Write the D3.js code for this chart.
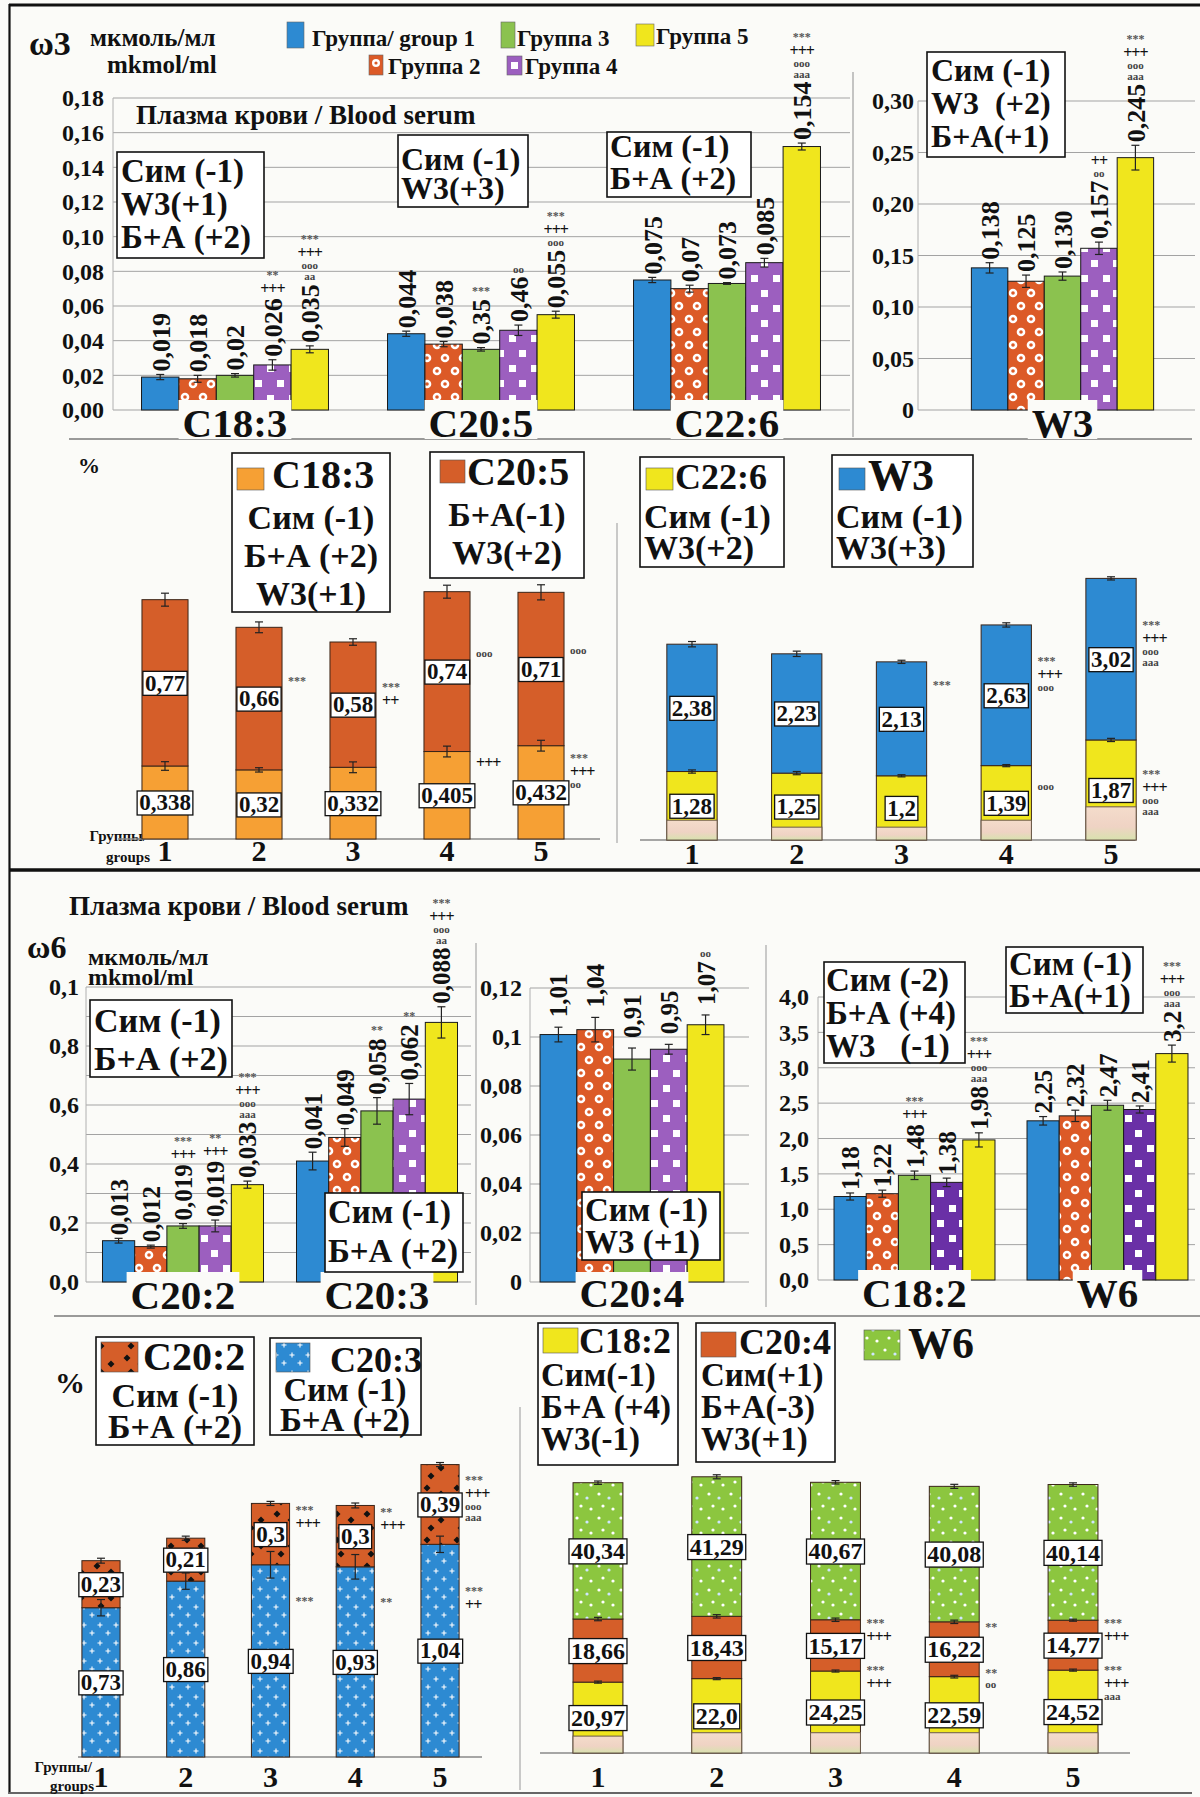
<!DOCTYPE html>
<html>
<head>
<meta charset="utf-8">
<script src="https://cdn.jsdelivr.net/npm/d3@7"></script>
<style>
  body { margin: 0; background: #fff; }
  svg { display: block; font-family: "Liberation Serif", "DejaVu Serif", serif; font-weight: bold; }
  text { white-space: pre; fill: #111; }
</style>
</head>
<body>
<svg id="fig" width="1200" height="1797"></svg>
<script>
// ---------- data ----------
const groups = ["1", "2", "3", "4", "5"];
const groupNames = ["Группа/ group 1", "Группа 2", "Группа 3", "Группа 4", "Группа 5"];

// ω3, мкмоль/мл
const w3Acids = ["C18:3", "C20:5", "C22:6"];
const w3Vals = [
  [0.019, 0.018, 0.020, 0.026, 0.035],
  [0.044, 0.038, 0.035, 0.046, 0.055],
  [0.075, 0.070, 0.073, 0.085, 0.152]
];
const w3Errs = [
  [0.0015, 0.002, 0.001, 0.003, 0.002],
  [0.0015, 0.0015, 0.001, 0.003, 0.002],
  [0.0015, 0.002, 0.0005, 0.0025, 0.002]
];
const w3Labs = [
  ["0,019", "0,018", "0,02", "0,026", "0,035"],
  ["0,044", "0,038", "0,35", "0,46", "0,055"],
  ["0,075", "0,07", "0,073", "0,085", "0,154"]
];
const w3Marks = [
  [[], [], [], ["**", "+++"], ["***", "+++", "ooo", "aa"]],
  [[], [], ["***"], ["oo"], ["***", "+++", "ooo"]],
  [[], [], [], [], ["***", "+++", "ooo", "aaa"]]
];
const w3Ticks = [0, 0.02, 0.04, 0.06, 0.08, 0.10, 0.12, 0.14, 0.16, 0.18];
const w3TickLabs = ["0,00", "0,02", "0,04", "0,06", "0,08", "0,10", "0,12", "0,14", "0,16", "0,18"];
const w3Notes = [["Сим (-1)", "W3(+1)", "Б+А (+2)"], ["Сим (-1)", "W3(+3)"], ["Сим (-1)", "Б+А (+2)"]];

const sumW3Vals = [[0.138, 0.125, 0.130, 0.157, 0.245]];
const sumW3Errs = [[0.005, 0.006, 0.004, 0.006, 0.012]];
const sumW3Labs = [["0,138", "0,125", "0,130", "0,157", "0,245"]];
const sumW3Marks = [[[], [], [], ["++", "oo"], ["***", "+++", "ooo", "aaa"]]];
const sumW3Ticks = [0, 0.05, 0.10, 0.15, 0.20, 0.25, 0.30];
const sumW3TickLabs = ["0", "0,05", "0,10", "0,15", "0,20", "0,25", "0,30"];
const sumW3Note = ["Сим (-1)", "W3  (+2)", "Б+А(+1)"];

// ω3, %
const pctC183 = [0.338, 0.32, 0.332, 0.405, 0.432];
const pctC205 = [0.77, 0.66, 0.58, 0.74, 0.71];
const pctC183Err = [0.02, 0.01, 0.025, 0.025, 0.025];
const pctC205Err = [0.03, 0.025, 0.015, 0.03, 0.035];
const pctC183Labs = ["0,338", "0,32", "0,332", "0,405", "0,432"];
const pctC205Labs = ["0,77", "0,66", "0,58", "0,74", "0,71"];
const pctC183Marks = [[], [], [], ["+++"], ["***", "+++", "oo"]];
const pctC205Marks = [[], ["***"], ["***", "++"], ["ooo"], ["ooo"]];

const pctC226 = [1.28, 1.25, 1.2, 1.39, 1.87];
const pctW3 = [2.38, 2.23, 2.13, 2.63, 3.02];
const pctW3Faded = [0.37, 0.24, 0.24, 0.37, 0.62];
const pctC226Err = [0.03, 0.03, 0.02, 0.02, 0.03];
const pctW3Err = [0.05, 0.05, 0.03, 0.04, 0.03];
const pctC226Labs = ["1,28", "1,25", "1,2", "1,39", "1,87"];
const pctW3Labs = ["2,38", "2,23", "2,13", "2,63", "3,02"];
const pctC226Marks = [[], [], [], ["ooo"], ["***", "+++", "ooo", "aaa"]];
const pctW3Marks = [[], [], ["***"], ["***", "+++", "ooo"], ["***", "+++", "ooo", "aaa"]];
const pctW3Notes = [["Сим (-1)", "Б+А (+2)", "W3(+1)"], ["Б+А(-1)", "W3(+2)"], ["Сим (-1)", "W3(+2)"], ["Сим (-1)", "W3(+3)"]];

// ω6, мкмоль/мл
const w6Acids = ["C20:2", "C20:3"];
const w6Vals = [
  [0.014, 0.012, 0.019, 0.019, 0.033],
  [0.041, 0.049, 0.058, 0.062, 0.088]
];
const w6Errs = [
  [0.0008, 0.0005, 0.0008, 0.002, 0.0012],
  [0.003, 0.003, 0.0045, 0.0053, 0.0053]
];
const w6Labs = [
  ["0,013", "0,012", "0,019", "0,019", "0,033"],
  ["0,041", "0,049", "0,058", "0,062", "0,088"]
];
const w6Marks = [
  [[], [], ["***", "+++"], ["**", "+++"], ["***", "+++", "ooo", "aaa"]],
  [[], [], ["**"], ["**"], ["***", "+++", "ooo", "aa"]]
];
const w6Ticks = [0, 0.02, 0.04, 0.06, 0.08, 0.1];
const w6TickLabs = ["0,0", "0,2", "0,4", "0,6", "0,8", "0,1"];
const w6Notes = [["Сим (-1)", "Б+А (+2)"], ["Сим (-1)", "Б+А (+2)"]];

const c204Vals = [[0.101, 0.103, 0.091, 0.095, 0.105]];
const c204Errs = [[0.003, 0.005, 0.0045, 0.002, 0.004]];
const c204Labs = [["1,01", "1,04", "0,91", "0,95", "1,07"]];
const c204Marks = [[[], [], [], [], ["oo"]]];
const c204Ticks = [0, 0.02, 0.04, 0.06, 0.08, 0.1, 0.12];
const c204TickLabs = ["0", "0,02", "0,04", "0,06", "0,08", "0,1", "0,12"];
const c204Note = ["Сим (-1)", "W3 (+1)"];

const n6Acids = ["C18:2", "W6"];
const n6Vals = [
  [1.18, 1.22, 1.48, 1.38, 1.98],
  [2.25, 2.32, 2.47, 2.41, 3.2]
];
const n6Errs = [
  [0.05, 0.05, 0.06, 0.06, 0.1],
  [0.06, 0.08, 0.07, 0.05, 0.12]
];
const n6Labs = [
  ["1,18", "1,22", "1,48", "1,38", "1,98"],
  ["2,25", "2,32", "2,47", "2,41", "3,2"]
];
const n6Marks = [
  [[], [], ["***", "+++"], [], ["***", "+++", "ooo", "aaa"]],
  [[], [], [], [], ["***", "+++", "ooo", "aaa"]]
];
const n6Ticks = [0, 0.5, 1, 1.5, 2, 2.5, 3, 3.5, 4];
const n6TickLabs = ["0,0", "0,5", "1,0", "1,5", "2,0", "2,5", "3,0", "3,5", "4,0"];
const c182Note = ["Сим (-2)", "Б+А (+4)", "W3   (-1)"];
const sumW6Note = ["Сим (-1)", "Б+А(+1)"];

// ω6, %
const pctC203 = [0.73, 0.86, 0.94, 0.93, 1.04];
const pctC202 = [0.23, 0.21, 0.3, 0.3, 0.39];
const pctC203Err = [0.04, 0.04, 0.065, 0.06, 0.04];
const pctC202Err = [0.012, 0.01, 0.01, 0.012, 0.01];
const pctC203Labs = ["0,73", "0,86", "0,94", "0,93", "1,04"];
const pctC202Labs = ["0,23", "0,21", "0,3", "0,3", "0,39"];
const pctC203Marks = [[], [], ["***"], ["**"], ["***", "++"]];
const pctC202Marks = [[], [], ["***", "+++"], ["**", "+++"], ["***", "+++", "ooo", "aaa"]];

const pctC182 = [20.97, 22.0, 24.25, 22.59, 24.52];
const pctC204 = [18.66, 18.43, 15.17, 16.22, 14.77];
const pctW6 = [40.34, 41.29, 40.67, 40.08, 40.14];
const pctW6Faded = [5, 6, 6, 6, 6];
const pctC182Err = [0.3, 0.3, 0.3, 0.4, 0.3];
const pctC204Err = [0.5, 0.5, 0.5, 0.5, 0.3];
const pctW6Err = [0.5, 0.6, 0.5, 0.6, 0.5];
const pctC182Labs = ["20,97", "22,0", "24,25", "22,59", "24,52"];
const pctC204Labs = ["18,66", "18,43", "15,17", "16,22", "14,77"];
const pctW6Labs = ["40,34", "41,29", "40,67", "40,08", "40,14"];
const pctC182Marks = [[], [], ["***", "+++"], ["**", "oo"], ["***", "+++", "aaa"]];
const pctC204Marks = [[], [], ["***", "+++"], ["**"], ["***", "+++"]];
const pctW6Notes = [["Сим (-1)", "Б+А (+2)"], ["Сим (-1)", "Б+А (+2)"], ["Сим(-1)", "Б+А (+4)", "W3(-1)"], ["Сим(+1)", "Б+А(-3)", "W3(+1)"]];

// ---------- drawing ----------
const SERIF = '"Liberation Serif", "DejaVu Serif", serif';
const COL = {
  blue: "#2d8ad2", red: "#dc5a27", green: "#8bc24f", purple: "#9c5fbf", purpleDk: "#6a30a6",
  yellow: "#f0e61d", orange: "#f6a034", brick: "#d55e29", w6: "#8cc63f"
};
const svg = d3.select("#fig");
svg.append("rect").attr("width", 1200).attr("height", 1797).attr("fill", "#fbfbf8");
const defs = svg.append("defs");

function pattern(id, w, h, bg) {
  const p = defs.append("pattern").attr("id", id).attr("patternUnits", "userSpaceOnUse")
    .attr("width", w).attr("height", h);
  p.append("rect").attr("width", w).attr("height", h).attr("fill", bg);
  return p;
}
const rings = pattern("rings", 18, 26, COL.red);
[[5, 7], [13, 20]].forEach(([x, y]) => {
  rings.append("circle").attr("cx", x).attr("cy", y).attr("r", 4.3).attr("fill", "#fff");
  rings.append("circle").attr("cx", x).attr("cy", y).attr("r", 1.8).attr("fill", COL.red);
});
[["squares", COL.purple], ["squaresDk", COL.purpleDk]].forEach(([id, c]) => {
  const p = pattern(id, 22, 30, c);
  [[3, 5], [13, 20]].forEach(([x, y]) => p.append("rect").attr("x", x).attr("y", y).attr("width", 7).attr("height", 7).attr("fill", "#fff"));
});
const diam = pattern("diamonds", 30, 26, COL.brick);
[[7, 6], [21, 12], [11, 20]].forEach(([x, y]) =>
  diam.append("path").attr("d", `M${x},${y - 3.5}L${x + 3.5},${y}L${x},${y + 3.5}L${x - 3.5},${y}Z`).attr("fill", "#111"));
const cross = pattern("crosses", 16, 18, COL.blue);
[[4, 5], [12, 13]].forEach(([x, y]) =>
  cross.append("path").attr("d", `M${x - 2.5},${y}H${x + 2.5}M${x},${y - 2.5}V${y + 2.5}`).attr("stroke", "#fff").attr("stroke-width", 1.1));
const dots = pattern("dots", 22, 24, COL.w6);
[[5, 6, "#fff"], [15, 10, "#cfe6ff"], [9, 18, "#fff"], [19, 21, "#fff"]].forEach(([x, y, c]) =>
  dots.append("circle").attr("cx", x).attr("cy", y).attr("r", 1.6).attr("fill", c));
const fg = defs.append("linearGradient").attr("id", "faded").attr("x1", 0).attr("y1", 0).attr("x2", 0).attr("y2", 1);
[[0, "#f4dccb"], [0.6, "#efd3c4"], [1, "#d8e2ae"]].forEach(([o, c]) => fg.append("stop").attr("offset", o).attr("stop-color", c));

const groupFill = (j, dark) => [COL.blue, "url(#rings)", COL.green, dark ? "url(#squaresDk)" : "url(#squares)", COL.yellow][j];

function markStyle(s) {
  if (s[0] === "*") return { size: 12, h: 12, fill: "#555", ls: 0 };
  if (s[0] === "+") return { size: 16, h: 15, fill: "#111", ls: -1 };
  return { size: 11, h: 11, fill: "#444", ls: 0 };
}
// one text per stack of significance marks; up = stack ends at y, else starts at y
function markStack(g, x, y, list, anchor, up) {
  if (!list || !list.length) return;
  let cur = up ? y - d3.sum(list, s => markStyle(s).h) : y;
  const t = g.append("text").attr("text-anchor", anchor);
  list.forEach(s => {
    const st = markStyle(s);
    cur += st.h;
    t.append("tspan").attr("x", x).attr("y", cur - 2).attr("font-size", st.size)
      .attr("letter-spacing", st.ls).style("fill", st.fill).text(s);
  });
}

function line(x1, y1, x2, y2, stroke, w) {
  svg.append("line").attr("x1", x1).attr("y1", y1).attr("x2", x2).attr("y2", y2)
    .attr("stroke", stroke).attr("stroke-width", w);
}
function label(x, y, s, size, anchor) {
  return svg.append("text").attr("x", x).attr("y", y).attr("font-size", size)
    .attr("text-anchor", anchor || "start").text(s);
}

function barChart(o) {
  const g = svg.append("g");
  const y = d3.scaleLinear().domain(o.domain).range(o.yRange);
  g.selectAll(null).data(o.grid).join("line")
    .attr("x1", o.gx[0]).attr("x2", o.gx[1]).attr("y1", d => y(d)).attr("y2", d => y(d))
    .attr("stroke", "#a3a3a3").attr("stroke-width", 1);
  g.append("line").attr("x1", o.gx[0]).attr("x2", o.gx[0]).attr("y1", y(0)).attr("y2", y(o.domain[1]))
    .attr("stroke", "#b0b0b0").attr("stroke-width", 1);
  g.append("g").attr("transform", `translate(${o.axisX},0)`)
    .call(d3.axisLeft(y).tickValues(o.ticks).tickFormat((d, i) => o.tickLabels[i]).tickSize(0).tickPadding(0))
    .call(a => a.select(".domain").remove())
    .attr("font-family", SERIF).attr("font-size", 24).attr("font-weight", "bold");

  const xb = d3.scaleBand().domain(o.cats).range(o.range).paddingInner(o.pad).paddingOuter(o.pad / 2);
  const xi = d3.scaleBand().domain(groups).range([0, xb.bandwidth()]);
  const flat = o.cats.flatMap((c, ci) => groups.map((k, j) => ({
    c, k, j, v: o.values[ci][j], e: o.errors[ci][j], lab: o.labels[ci][j], mk: o.marks[ci][j]
  })));
  const cx = d => xb(d.c) + xi(d.k) + xi.bandwidth() / 2;

  g.selectAll(null).data(flat).join("rect")
    .attr("x", d => xb(d.c) + xi(d.k)).attr("width", xi.bandwidth())
    .attr("y", d => y(d.v)).attr("height", d => y(0) - y(d.v))
    .attr("fill", d => groupFill(d.j, o.dark)).attr("stroke", "#1a1a1a").attr("stroke-width", 1);

  const eb = g.selectAll(null).data(flat).join("g").attr("stroke", "#222").attr("stroke-width", 1.2);
  eb.append("line").attr("x1", cx).attr("x2", cx).attr("y1", d => y(d.v - d.e)).attr("y2", d => y(d.v + d.e));
  [1, -1].forEach(s => eb.append("line").attr("x1", d => cx(d) - 4).attr("x2", d => cx(d) + 4)
    .attr("y1", d => y(d.v + s * d.e)).attr("y2", d => y(d.v + s * d.e)));

  const cl = g.selectAll(null).data(o.cats).join("g");
  cl.append("text").attr("x", c => xb(c) + xb.bandwidth() / 2).attr("y", o.catY)
    .attr("text-anchor", "middle").attr("font-size", 41).text(c => c)
    .each(function () {
      const b = this.getBBox();
      d3.select(this.parentNode).insert("rect", "text").attr("x", b.x - 4).attr("y", y(0) - 10)
        .attr("width", b.width + 8).attr("height", o.catY - y(0) + 12).attr("fill", "#fbfbf8");
    });

  g.selectAll(null).data(flat).join("text")
    .attr("transform", d => `translate(${cx(d)},${y(d.v + d.e) - o.gap}) rotate(-90)`)
    .attr("dy", "0.36em").attr("font-size", o.labelSize).text(d => d.lab)
    .each(function (d) { d.top = y(d.v + d.e) - o.gap - this.getComputedTextLength(); });
  flat.forEach(d => markStack(g, cx(d), d.top - 2, d.mk, "middle", true));
}

function stackPanel(o) {
  const g = svg.append("g");
  const y = d3.scaleLinear().domain(o.domain).range(o.yRange);
  const x = d3.scaleBand().domain(groups).range(o.range).paddingInner(o.pad).paddingOuter(o.pad / 2);
  const rows = groups.map((k, i) => Object.fromEntries([["g", k], ...o.keys.map((key, j) => [key, o.series[j][i]])]));
  const layers = d3.stack().keys(o.keys)(rows);
  g.append("line").attr("x1", o.axis[0]).attr("x2", o.axis[1]).attr("y1", y(0)).attr("y2", y(0))
    .attr("stroke", "#8a8a8a").attr("stroke-width", 1.6);
  layers.forEach((layer, li) => {
    g.selectAll(null).data(layer).join("rect")
      .attr("x", d => x(d.data.g)).attr("width", x.bandwidth())
      .attr("y", d => y(d[1])).attr("height", d => y(d[0]) - y(d[1]))
      .attr("fill", o.fills[li]).attr("stroke", "#3a2418").attr("stroke-width", 1);
  });
  if (o.faded) {
    g.selectAll(null).data(o.faded).join("rect")
      .attr("x", (d, i) => x(groups[i])).attr("width", x.bandwidth())
      .attr("y", d => y(d)).attr("height", d => y(0) - y(d))
      .attr("fill", "url(#faded)").attr("stroke", "#6b5a4a").attr("stroke-width", 1);
  }
  layers.forEach((layer, li) => {
    const e = o.errors[li];
    const eb = g.selectAll(null).data(layer).join("g").attr("stroke", "#222").attr("stroke-width", 1.2);
    const cx = d => x(d.data.g) + x.bandwidth() / 2;
    eb.append("line").attr("x1", cx).attr("x2", cx).attr("y1", (d, i) => y(d[1] - e[i])).attr("y2", (d, i) => y(d[1] + e[i]));
    [1, -1].forEach(s => eb.append("line").attr("x1", d => cx(d) - 4).attr("x2", d => cx(d) + 4)
      .attr("y1", (d, i) => y(d[1] + s * e[i])).attr("y2", (d, i) => y(d[1] + s * e[i])));
  });
  layers.forEach((layer, li) => {
    layer.forEach((d, i) => {
      const cx = x(d.data.g) + x.bandwidth() / 2;
      const cy = (y(d[0]) + y(d[1])) / 2;
      const t = g.append("text").attr("x", cx).attr("y", cy).attr("dy", "0.34em")
        .attr("text-anchor", "middle").attr("font-size", o.boxSize).text(o.labels[li][i]);
      const b = t.node().getBBox();
      g.insert("rect", () => t.node()).attr("x", b.x - 2).attr("y", cy - o.boxSize * 0.5)
        .attr("width", b.width + 4).attr("height", o.boxSize + 1)
        .attr("fill", "#fff").attr("stroke", "#111").attr("stroke-width", 1.3);
      if (o.marks[li]) markStack(g, x(d.data.g) + x.bandwidth() + 6, cy + o.markDy[li], o.marks[li][i], "start", false);
    });
  });
  g.selectAll(null).data(groups).join("text")
    .attr("x", k => x(k) + x.bandwidth() / 2).attr("y", o.numY)
    .attr("text-anchor", "middle").attr("font-size", 30).text(k => k);
}

function noteBox(b, lines) {
  const g = svg.append("g");
  g.append("rect").attr("x", b.x).attr("y", b.y).attr("width", b.w).attr("height", b.h)
    .attr("fill", "#fff").attr("stroke", "#111").attr("stroke-width", 1.6);
  if (b.sw) {
    g.append("rect").attr("x", b.sw[0]).attr("y", b.sw[1]).attr("width", b.sw[2]).attr("height", b.sw[3])
      .attr("fill", b.sw[4]).attr("stroke", "#555").attr("stroke-width", 0.6);
    g.append("text").attr("x", b.tt[0]).attr("y", b.tt[1]).attr("font-size", b.tt[2]).text(b.title);
  }
  const t = g.append("text").attr("font-size", b.fs).attr("text-anchor", b.anchor || "start");
  t.selectAll("tspan").data(lines).join("tspan")
    .attr("x", b.tx).attr("y", (d, i) => b.by + i * b.lh).text(d => d);
}

// ---------- frame ----------
line(9, 5, 1200, 5, "#111", 3);
line(9.5, 4, 9.5, 1794, "#111", 2.2);
line(9, 870, 1200, 870, "#111", 3.5);
line(9, 1793, 1192, 1793, "#666", 2);
line(69, 439, 1192, 439, "#7a7a7a", 1.5);
line(853, 72, 853, 437, "#a0a0a0", 1.2);
line(617, 523, 617, 843, "#a8a8a8", 1.2);
line(54, 1316, 1200, 1316, "#7a7a7a", 1.5);
line(476, 943, 476, 1305, "#a8a8a8", 1.2);
line(766, 945, 766, 1307, "#a8a8a8", 1.2);
line(520, 1407, 520, 1790, "#a8a8a8", 1.2);

// ---------- ω3 header & legend ----------
label(29, 55, "ω3", 34);
label(90, 46, "мкмоль/мл", 25);
label(107, 73, "mkmol/ml", 25);
const legendPos = [[287, 22, 17, 26, 312, 46], [369, 55, 14, 20, 388, 74], [501, 22, 14, 26, 517, 46],
                   [507, 56, 15, 19, 525, 74], [636, 24, 18, 22, 656, 44]];
legendPos.forEach(([x, y, w, h, tx, ty], j) => {
  svg.append("rect").attr("x", x).attr("y", y).attr("width", w).attr("height", h)
    .attr("fill", [COL.blue, COL.red, COL.green, COL.purple, COL.yellow][j]).attr("stroke", "#666").attr("stroke-width", 0.6);
  if (j === 1) {
    svg.append("circle").attr("cx", x + w / 2).attr("cy", y + h / 2 - 2).attr("r", 4).attr("fill", "#fff");
    svg.append("circle").attr("cx", x + w / 2).attr("cy", y + h / 2 - 2).attr("r", 1.6).attr("fill", COL.red);
  }
  if (j === 3) svg.append("rect").attr("x", x + 4).attr("y", y + 6).attr("width", 7).attr("height", 7).attr("fill", "#fff");
  label(tx, ty, groupNames[j], 23);
});

// ---------- ω3 bar charts ----------
barChart({
  cats: w3Acids, values: w3Vals, errors: w3Errs, labels: w3Labs, marks: w3Marks,
  domain: [0, 0.18], yRange: [410, 98], grid: w3Ticks, gx: [113, 850],
  ticks: w3Ticks, tickLabels: w3TickLabs, axisX: 104,
  range: [112, 850], pad: 0.24, catY: 437, labelSize: 26, gap: 3
});
label(136, 124, "Плазма крови / Blood serum", 27);
noteBox({ x: 117, y: 152, w: 147, h: 106, tx: 121, by: 182, lh: 33, fs: 33 }, w3Notes[0]);
noteBox({ x: 398, y: 135, w: 130, h: 72, tx: 401, by: 170, lh: 29, fs: 32 }, w3Notes[1]);
noteBox({ x: 607, y: 132, w: 144, h: 65, tx: 610, by: 157, lh: 32, fs: 32 }, w3Notes[2]);

barChart({
  cats: ["W3"], values: sumW3Vals, errors: sumW3Errs, labels: sumW3Labs, marks: sumW3Marks,
  domain: [0, 0.30], yRange: [410, 101], grid: sumW3Ticks, gx: [918, 1195],
  ticks: sumW3Ticks, tickLabels: sumW3TickLabs, axisX: 914,
  range: [950, 1175], pad: 0.19, catY: 437, labelSize: 26, gap: 3
});
noteBox({ x: 927, y: 52, w: 138, h: 105, tx: 931, by: 81, lh: 33, fs: 32 }, sumW3Note);

// ---------- ω3 % panels ----------
label(78, 473, "%", 22);
label(147, 841, "Группы/", 15, "end");
label(150, 862, "groups", 15, "end");
stackPanel({
  keys: ["c183", "c205"], series: [pctC183, pctC205], errors: [pctC183Err, pctC205Err],
  labels: [pctC183Labs, pctC205Labs], marks: [pctC183Marks, pctC205Marks], markDy: [-40, -24],
  fills: [COL.orange, COL.brick], domain: [0, 1], yRange: [839, 623],
  range: [118, 588], pad: 0.51, axis: [118, 600], numY: 861, boxSize: 23
});
noteBox({ x: 232, y: 453, w: 158, h: 159, sw: [237, 468, 27, 22, COL.orange], title: w3Acids[0], tt: [272, 488, 40],
  tx: 311, by: 529, lh: 38, fs: 34, anchor: "middle" }, pctW3Notes[0]);
noteBox({ x: 430, y: 452, w: 154, h: 126, sw: [440, 460, 25, 23, COL.brick], title: w3Acids[1], tt: [467, 485, 40],
  tx: 507, by: 526, lh: 38, fs: 34, anchor: "middle" }, pctW3Notes[1]);

stackPanel({
  keys: ["c226", "w3"], series: [pctC226, pctW3], errors: [pctC226Err, pctW3Err],
  labels: [pctC226Labs, pctW3Labs], marks: [pctC226Marks, pctW3Marks], markDy: [-22, -40],
  fills: [COL.yellow, COL.blue], faded: pctW3Faded, domain: [0, 1], yRange: [840, 786.5],
  range: [639.6, 1163.4], pad: 0.52, axis: [640, 1135], numY: 864, boxSize: 23
});
noteBox({ x: 640, y: 457, w: 144, h: 110, sw: [646, 468, 27, 22, COL.yellow], title: w3Acids[2], tt: [675, 489, 36],
  tx: 644, by: 528, lh: 31, fs: 34 }, pctW3Notes[2]);
noteBox({ x: 832, y: 455, w: 141, h: 112, sw: [839, 468, 26, 22, COL.blue], title: "W3", tt: [868, 490, 44],
  tx: 836, by: 528, lh: 31, fs: 34 }, pctW3Notes[3]);

// ---------- ω6 header ----------
label(69, 915, "Плазма крови / Blood serum", 27);
label(27, 958, "ω6", 32);
label(88, 965, "мкмоль/мл", 24);
label(88, 985, "mkmol/ml", 24);

barChart({
  cats: w6Acids, values: w6Vals, errors: w6Errs, labels: w6Labs, marks: w6Marks,
  domain: [0, 0.1], yRange: [1282, 987], grid: d3.range(0, 0.1001, 0.01), gx: [86, 471],
  ticks: w6Ticks, tickLabels: w6TickLabs, axisX: 79,
  range: [86, 474], pad: 0.17, catY: 1309, labelSize: 25, gap: 3
});
noteBox({ x: 90, y: 1000, w: 142, h: 77, tx: 94, by: 1032, lh: 38, fs: 34 }, w6Notes[0]);
noteBox({ x: 325, y: 1193, w: 138, h: 79, tx: 328, by: 1223, lh: 39, fs: 33 }, w6Notes[1]);

barChart({
  cats: ["C20:4"], values: c204Vals, errors: c204Errs, labels: c204Labs, marks: c204Marks,
  domain: [0, 0.12], yRange: [1282, 988], grid: c204Ticks, gx: [530, 749],
  ticks: c204Ticks, tickLabels: c204TickLabs, axisX: 522,
  range: [522, 742], pad: 0.164, catY: 1307, labelSize: 25, gap: 10
});
noteBox({ x: 582, y: 1192, w: 138, h: 68, tx: 585, by: 1221, lh: 32, fs: 33 }, c204Note);

barChart({
  cats: n6Acids, values: n6Vals, errors: n6Errs, labels: n6Labs, marks: n6Marks, dark: true,
  domain: [0, 4], yRange: [1280, 997], grid: n6Ticks, gx: [818, 1195],
  ticks: n6Ticks, tickLabels: n6TickLabs, axisX: 809,
  range: [818, 1204], pad: 0.166, catY: 1307, labelSize: 25, gap: 3
});
noteBox({ x: 824, y: 962, w: 141, h: 101, tx: 826, by: 991, lh: 33, fs: 33 }, c182Note);
noteBox({ x: 1006, y: 947, w: 137, h: 66, tx: 1009, by: 975, lh: 32, fs: 33 }, sumW6Note);

// ---------- ω6 % panels ----------
label(55, 1393, "%", 30);
label(92, 1772, "Группы/", 15, "end");
label(94, 1791, "groups", 15, "end");
stackPanel({
  keys: ["c203", "c202"], series: [pctC203, pctC202], errors: [pctC203Err, pctC202Err],
  labels: [pctC203Labs, pctC202Labs], marks: [pctC203Marks, pctC202Marks], markDy: [-66, -30],
  fills: ["url(#crosses)", "url(#diamonds)"], domain: [0, 1], yRange: [1757, 1552.5],
  range: [58.6, 482.4], pad: 0.55, axis: [78, 482], numY: 1787, boxSize: 23
});
noteBox({ x: 96, y: 1337, w: 158, h: 108, sw: [101, 1342, 37, 30, "url(#diamonds)"], title: w6Acids[0], tt: [143, 1370, 40],
  tx: 175, by: 1407, lh: 31, fs: 34, anchor: "middle" }, pctW6Notes[0]);
noteBox({ x: 270, y: 1338, w: 151, h: 97, sw: [276, 1343, 34, 29, "url(#crosses)"], title: "  " + w6Acids[1], tt: [312, 1372, 36],
  tx: 345, by: 1401, lh: 30, fs: 33, anchor: "middle" }, pctW6Notes[1]);

stackPanel({
  keys: ["c182", "c204", "w6"], series: [pctC182, pctC204, pctW6], errors: [pctC182Err, pctC204Err, pctW6Err],
  labels: [pctC182Labs, pctC204Labs, pctW6Labs], marks: [pctC182Marks, pctC204Marks, null], markDy: [-48, -28, 0],
  fills: [COL.yellow, COL.brick, "url(#dots)"], faded: pctW6Faded, domain: [0, 100], yRange: [1753, 1415],
  range: [538.6, 1132.4], pad: 0.58, axis: [540, 1130], numY: 1787, boxSize: 24
});
noteBox({ x: 538, y: 1323, w: 140, h: 142, sw: [543, 1328, 35, 25, COL.yellow], title: n6Acids[0], tt: [579, 1353, 36],
  tx: 541, by: 1386, lh: 32, fs: 33 }, pctW6Notes[2]);
noteBox({ x: 696, y: 1323, w: 139, h: 139, sw: [701, 1332, 35, 25, COL.brick], title: "C20:4", tt: [739, 1354, 36],
  tx: 701, by: 1386, lh: 32, fs: 33 }, pctW6Notes[3]);
svg.append("rect").attr("x", 864).attr("y", 1330).attr("width", 36).attr("height", 30)
  .attr("fill", "url(#dots)").attr("stroke", "#555").attr("stroke-width", 0.6);
label(908, 1358, n6Acids[1], 44);
</script>
</body>
</html>
